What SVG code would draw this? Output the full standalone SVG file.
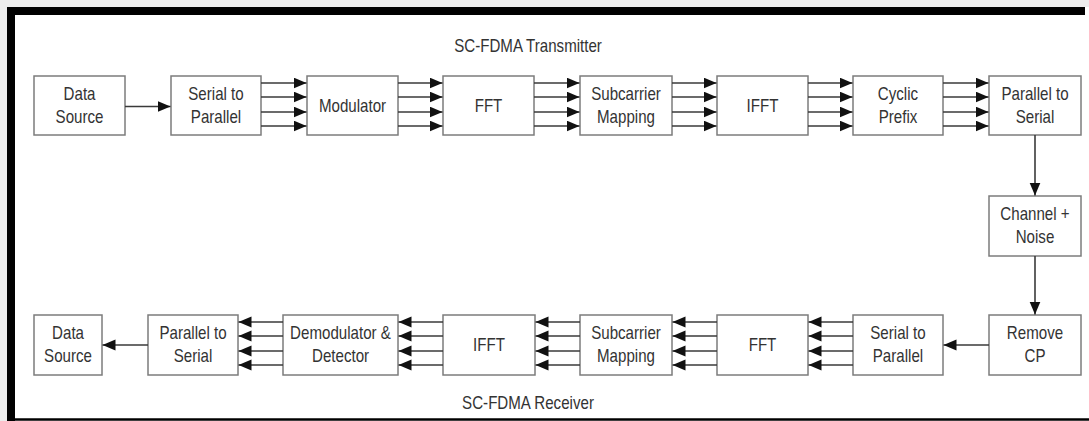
<svg xmlns="http://www.w3.org/2000/svg" width="1089" height="421" viewBox="0 0 1089 421">
<style>
.box{fill:#fff;stroke:#7c7c7c;stroke-width:1.5}
.lbl,.ttl{font-family:"Liberation Sans",Arial,sans-serif;font-size:18px;fill:#333;text-anchor:middle;transform:scaleX(0.84);transform-box:fill-box;transform-origin:center}
.c{stroke:#3a3a3a;stroke-width:1.6;fill:none;marker-end:url(#ah)}
</style>
<defs>
<marker id="ah" markerUnits="userSpaceOnUse" markerWidth="15" markerHeight="12" refX="13" refY="5.5" orient="auto">
<path d="M0,0 L13,5.5 L0,11 z" fill="#111"/>
</marker>
</defs>
<rect x="0" y="0" width="1089" height="421" fill="#ececec"/>
<rect x="7" y="7" width="1082" height="414" fill="#fff"/>
<rect x="7" y="7" width="8" height="414" fill="#000"/>
<rect x="7" y="7" width="1078" height="8" fill="#000"/>
<line x1="7" y1="419.5" x2="1089" y2="419.5" stroke="#000" stroke-width="2.5"/>

<text class="ttl" x="528" y="52">SC-FDMA Transmitter</text>
<text class="ttl" x="528" y="409">SC-FDMA Receiver</text>

<g id="tx-data-source"><rect class="box" x="34" y="76" width="91" height="59"/><text class="lbl" x="79.5" y="100">Data</text><text class="lbl" x="79.5" y="123">Source</text></g>
<g id="tx-s2p"><rect class="box" x="171" y="76" width="90" height="59"/><text class="lbl" x="216" y="100">Serial to</text><text class="lbl" x="216" y="123">Parallel</text></g>
<g id="tx-modulator"><rect class="box" x="307" y="76" width="91" height="59"/><text class="lbl" x="352.5" y="112">Modulator</text></g>
<g id="tx-fft"><rect class="box" x="443" y="76" width="91" height="59"/><text class="lbl" x="488.5" y="112">FFT</text></g>
<g id="tx-scm"><rect class="box" x="580" y="76" width="92" height="59"/><text class="lbl" x="626" y="100">Subcarrier</text><text class="lbl" x="626" y="123">Mapping</text></g>
<g id="tx-ifft"><rect class="box" x="717" y="76" width="91" height="59"/><text class="lbl" x="762.5" y="112">IFFT</text></g>
<g id="tx-cp"><rect class="box" x="853" y="76" width="90" height="59"/><text class="lbl" x="898" y="100">Cyclic</text><text class="lbl" x="898" y="123">Prefix</text></g>
<g id="tx-p2s"><rect class="box" x="989" y="76" width="92" height="59"/><text class="lbl" x="1035" y="100">Parallel to</text><text class="lbl" x="1035" y="123">Serial</text></g>

<g id="channel"><rect class="box" x="989" y="196" width="92" height="60"/><text class="lbl" x="1035" y="220">Channel +</text><text class="lbl" x="1035" y="243">Noise</text></g>

<g id="rx-remove-cp"><rect class="box" x="989" y="315" width="92" height="60"/><text class="lbl" x="1035" y="339.5">Remove</text><text class="lbl" x="1035" y="362.5">CP</text></g>
<g id="rx-s2p"><rect class="box" x="853" y="315" width="90" height="60"/><text class="lbl" x="898" y="339.5">Serial to</text><text class="lbl" x="898" y="362.5">Parallel</text></g>
<g id="rx-fft"><rect class="box" x="717" y="315" width="91" height="60"/><text class="lbl" x="762.5" y="351.5">FFT</text></g>
<g id="rx-scm"><rect class="box" x="580" y="315" width="92" height="60"/><text class="lbl" x="626" y="339.5">Subcarrier</text><text class="lbl" x="626" y="362.5">Mapping</text></g>
<g id="rx-ifft"><rect class="box" x="443" y="315" width="92" height="60"/><text class="lbl" x="489" y="351.5">IFFT</text></g>
<g id="rx-demod"><rect class="box" x="283" y="315" width="115" height="60"/><text class="lbl" x="340.5" y="339.5">Demodulator &amp;</text><text class="lbl" x="340.5" y="362.5">Detector</text></g>
<g id="rx-p2s"><rect class="box" x="148" y="315" width="90" height="60"/><text class="lbl" x="193" y="339.5">Parallel to</text><text class="lbl" x="193" y="362.5">Serial</text></g>
<g id="rx-data-source"><rect class="box" x="34" y="315" width="68" height="60"/><text class="lbl" x="68" y="339.5">Data</text><text class="lbl" x="68" y="362.5">Source</text></g>

<g id="connectors">
<path class="c" d="M125,106.5 H170.5"/>
<path class="c" d="M261,83 H306.5"/><path class="c" d="M261,97 H306.5"/><path class="c" d="M261,112 H306.5"/><path class="c" d="M261,126 H306.5"/>
<path class="c" d="M398,83 H442.5"/><path class="c" d="M398,97 H442.5"/><path class="c" d="M398,112 H442.5"/><path class="c" d="M398,126 H442.5"/>
<path class="c" d="M534,83 H579.5"/><path class="c" d="M534,97 H579.5"/><path class="c" d="M534,112 H579.5"/><path class="c" d="M534,126 H579.5"/>
<path class="c" d="M672,83 H716.5"/><path class="c" d="M672,97 H716.5"/><path class="c" d="M672,112 H716.5"/><path class="c" d="M672,126 H716.5"/>
<path class="c" d="M808,83 H852.5"/><path class="c" d="M808,97 H852.5"/><path class="c" d="M808,112 H852.5"/><path class="c" d="M808,126 H852.5"/>
<path class="c" d="M943,83 H988.5"/><path class="c" d="M943,97 H988.5"/><path class="c" d="M943,112 H988.5"/><path class="c" d="M943,126 H988.5"/>
<path class="c" d="M1035,135 V195.5"/>
<path class="c" d="M1035,256 V314.5"/>
<path class="c" d="M989,345 H943.5"/>
<path class="c" d="M853,322 H808.5"/><path class="c" d="M853,336 H808.5"/><path class="c" d="M853,351 H808.5"/><path class="c" d="M853,365 H808.5"/>
<path class="c" d="M717,322 H672.5"/><path class="c" d="M717,336 H672.5"/><path class="c" d="M717,351 H672.5"/><path class="c" d="M717,365 H672.5"/>
<path class="c" d="M580,322 H535.5"/><path class="c" d="M580,336 H535.5"/><path class="c" d="M580,351 H535.5"/><path class="c" d="M580,365 H535.5"/>
<path class="c" d="M443,322 H398.5"/><path class="c" d="M443,336 H398.5"/><path class="c" d="M443,351 H398.5"/><path class="c" d="M443,365 H398.5"/>
<path class="c" d="M283,322 H238.5"/><path class="c" d="M283,336 H238.5"/><path class="c" d="M283,351 H238.5"/><path class="c" d="M283,365 H238.5"/>
<path class="c" d="M148,345 H102.5"/>
</g>
</svg>
